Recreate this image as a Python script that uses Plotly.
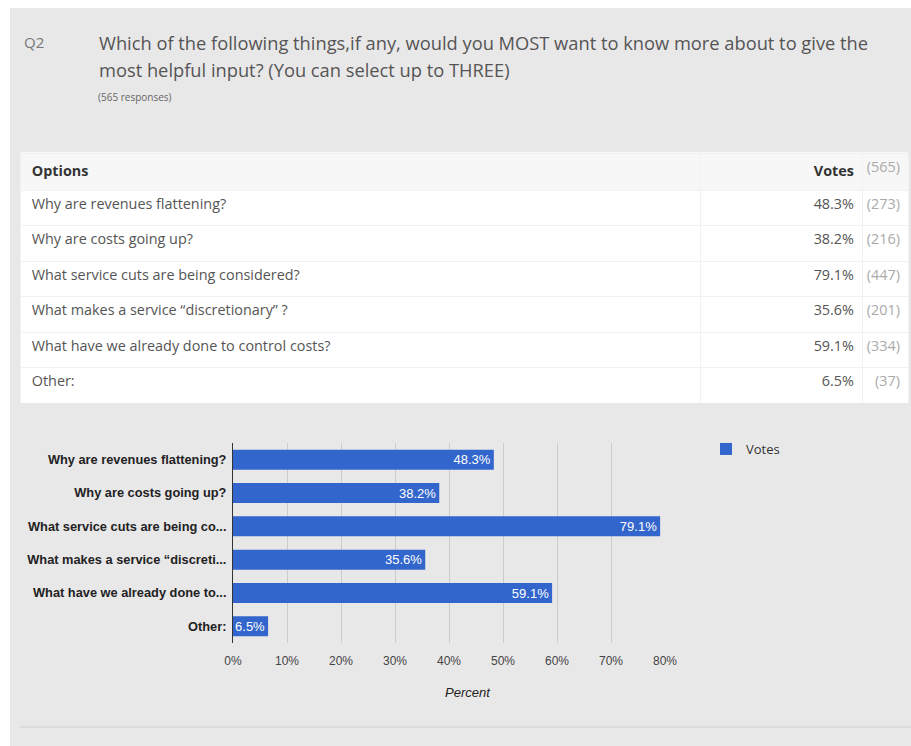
import plotly.graph_objects as go

W, H = 911, 746

options = [
    "Why are revenues flattening?",
    "Why are costs going up?",
    "What service cuts are being considered?",
    "What makes a service \u201cdiscretionary\u201d ?",
    "What have we already done to control costs?",
    "Other:",
]
chart_labels = [
    "Why are revenues flattening?",
    "Why are costs going up?",
    "What service cuts are being co...",
    "What makes a service \u201cdiscreti...",
    "What have we already done to...",
    "Other:",
]
percents = [48.3, 38.2, 79.1, 35.6, 59.1, 6.5]
counts = [273, 216, 447, 201, 334, 37]
total = 565
x_ticks = [0, 10, 20, 30, 40, 50, 60, 70, 80]

question_lines = [
    "Which of the following things,if any, would you MOST want to know more about to give the",
    "most helpful input? (You can select up to THREE)",
]

def px(x):
    return x / W

def py(y):
    return 1 - y / H

NB = "\u00a0"

BLUE = "#3366cc"
PANEL = "#e9e8e9"
HEADER_BG = "#f7f7f8"
LINE = "#f1f1f1"

fig = go.Figure()

# Table: options | percent | (count)
fig.add_trace(go.Table(
    domain=dict(x=[px(20), px(908)], y=[py(403), py(153)]),
    columnwidth=[680, 162, 46],
    header=dict(
        values=[NB + "<b>Options</b>", "<b>Votes</b>", f"({total})"],
        align=["left", "right", "right"],
        fill_color=HEADER_BG,
        line_color=LINE,
        height=37,
        font=dict(family="Open Sans", size=14.4, color=["#333333", "#333333", "#aaaaaa"]),
    ),
    cells=dict(
        values=[[NB + o for o in options],
                [f"{p}%" for p in percents],
                [f"({c})" for c in counts]],
        align=["left", "right", "right"],
        fill_color="#ffffff",
        line_color=LINE,
        height=35.5,
        font=dict(family="Open Sans", size=14.4, color=["#555555", "#555555", "#aaaaaa"]),
    ),
))

# Bars
fig.add_trace(go.Bar(
    y=chart_labels,
    x=percents,
    orientation="h",
    name="Votes",
    marker=dict(color=BLUE, line=dict(width=0)),
    text=[f"{p}%" for p in percents],
    textposition="inside",
    insidetextanchor="end",
    textfont=dict(family="Liberation Sans", size=13, color="#ffffff"),
    constraintext="none",
    cliponaxis=False,
    hoverinfo="skip",
))

shapes = [
    dict(type="rect", xref="paper", yref="paper", x0=px(10), x1=1, y0=0, y1=py(8),
         fillcolor=PANEL, line=dict(width=0), layer="below"),
    dict(type="rect", xref="paper", yref="paper", x0=px(20), x1=px(908), y0=py(154), y1=py(152),
         fillcolor=HEADER_BG, line=dict(width=0), layer="below"),
    dict(type="line", xref="paper", yref="paper", x0=px(20), x1=1, y0=py(727), y1=py(727),
         line=dict(color="#dcdcdc", width=2), layer="below"),
]

annotations = [
    dict(text="Q2", x=px(22), y=py(42), xref="paper", yref="paper", xanchor="left", yanchor="middle",
         showarrow=False, font=dict(family="Open Sans", size=15, color="#777777")),
    dict(text=question_lines[0], x=px(97), y=py(42), xref="paper", yref="paper", xanchor="left",
         yanchor="middle", showarrow=False, font=dict(family="Open Sans", size=18.3, color="#555555")),
    dict(text=question_lines[1], x=px(97), y=py(70), xref="paper", yref="paper", xanchor="left",
         yanchor="middle", showarrow=False, font=dict(family="Open Sans", size=18.3, color="#555555")),
    dict(text=f"({total} responses)", x=px(96), y=py(97), xref="paper", yref="paper", xanchor="left",
         yanchor="middle", showarrow=False, font=dict(family="Open Sans", size=10, color="#666666")),
    dict(text="<i>Percent</i>", x=px(468), y=py(692), xref="paper", yref="paper", xanchor="center",
         yanchor="middle", showarrow=False, font=dict(family="Liberation Sans", size=13, color="#222222")),
]

fig.update_layout(
    width=W, height=H, autosize=False,
    margin=dict(l=0, r=0, t=0, b=0, pad=0, autoexpand=False),
    paper_bgcolor="#ffffff",
    plot_bgcolor=PANEL,
    shapes=shapes,
    annotations=annotations,
    bargap=0.4,
    showlegend=True,
    legend=dict(x=px(706), y=py(434), xanchor="left", yanchor="top",
                bgcolor="rgba(0,0,0,0)",
                font=dict(family="Open Sans", size=13, color="#333333")),
    xaxis=dict(
        domain=[px(233), px(665)],
        range=[0, 80],
        tickvals=x_ticks,
        ticktext=[f"{t}%" for t in x_ticks],
        showgrid=True, gridcolor="#cccccc", gridwidth=1,
        zeroline=False, showline=False, automargin=False,
        ticks="", ticklabelstandoff=9,
        tickfont=dict(family="Liberation Sans", size=12, color="#444444"),
        fixedrange=True,
    ),
    yaxis=dict(
        domain=[py(643), py(443)],
        autorange="reversed",
        showgrid=False, zeroline=False, automargin=False,
        showline=True, linecolor="#333333", linewidth=1,
        ticks="", ticklabelstandoff=3,
        tickfont=dict(family="Liberation Sans", size=12.8, color="#222222", weight="bold"),
        fixedrange=True,
    ),
)

fig.write_html("out.html")
